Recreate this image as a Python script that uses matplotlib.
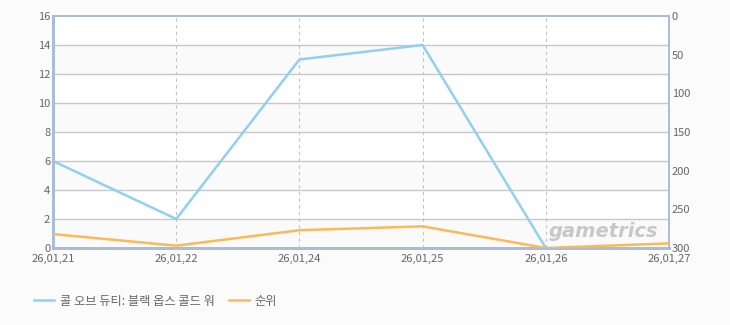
import matplotlib
matplotlib.use('Agg')
import matplotlib.pyplot as plt
import numpy as np

plt.rcParams['font.family'] = ['Noto Sans CJK KR', 'DejaVu Sans']

dates = ['26,01,21', '26,01,22', '26,01,24', '26,01,25', '26,01,26', '26,01,27']
players = [6, 2, 13, 14, 0, np.nan]   # 콜 오브 듀티 (left axis)
rank = [282, 297, 277, 272, 300, 294]  # 순위 (right axis, inverted)

blue = '#92d0f0'
orange = '#fbb957'
frame = '#a9bdd6'
txt = '#666666'

fig = plt.figure(figsize=(7.3, 3.25), dpi=100)
fig.patch.set_facecolor('#fbfbfb')
ax = fig.add_axes([53/730, 1-248/325, (669-53)/730, (248-16)/325])
ax.set_facecolor('white')

x = np.arange(len(dates))

# alternating bands
for lo in range(0, 16, 4):
    ax.axhspan(lo, lo + 2, color='#fafafa', zorder=0, lw=0)
for y in range(2, 16, 2):
    ax.axhline(y, color='#c8c8c8', lw=1, zorder=1)
for xi in x[1:-1]:
    ax.axvline(xi, color='#c4c4c4', lw=0.8, ls=(0, (3, 3)), zorder=1)

ax.plot(x, players, color=blue, lw=1.8, zorder=4, label='콜 오브 듀티: 블랙 옵스 콜드 워')
ax.set_xlim(0, len(dates) - 1)
ax.set_ylim(0, 16)
ax.set_yticks(range(0, 17, 2))
ax.set_xticks(x)
ax.set_xticklabels(dates)

ax2 = ax.twinx()
ax2.plot(x, rank, color=orange, lw=1.8, zorder=3, label='순위')
ax2.set_ylim(300, 0)
ax2.set_yticks(range(0, 301, 50))

for a in (ax, ax2):
    for s in a.spines.values():
        s.set_color(frame)
        s.set_linewidth(1.2)
    a.tick_params(length=0, labelsize=8, colors=txt, pad=2)
ax.tick_params(axis='x', pad=4)
ax.spines['left'].set_linewidth(2)
ax.spines['bottom'].set_linewidth(2)
ax2.spines['left'].set_linewidth(2)
ax2.spines['bottom'].set_linewidth(2)

# watermark
ax.text(0.983, 0.03, 'gametrics', transform=ax.transAxes, ha='right', va='bottom',
        fontsize=14, fontstyle='italic', fontweight='bold', color='#c8c8c8',
        family='DejaVu Sans', zorder=2)

h1, l1 = ax.get_legend_handles_labels()
h2, l2 = ax2.get_legend_handles_labels()
fig.legend(h1 + h2, l1 + l2, loc='center left', bbox_to_anchor=(23/730, 1-301/325),
           ncol=2, frameon=False, fontsize=8.8, labelcolor=txt, handlelength=1.6,
           handletextpad=0.5, columnspacing=1.2)

fig.savefig('out.png', dpi=100, facecolor=fig.get_facecolor())
